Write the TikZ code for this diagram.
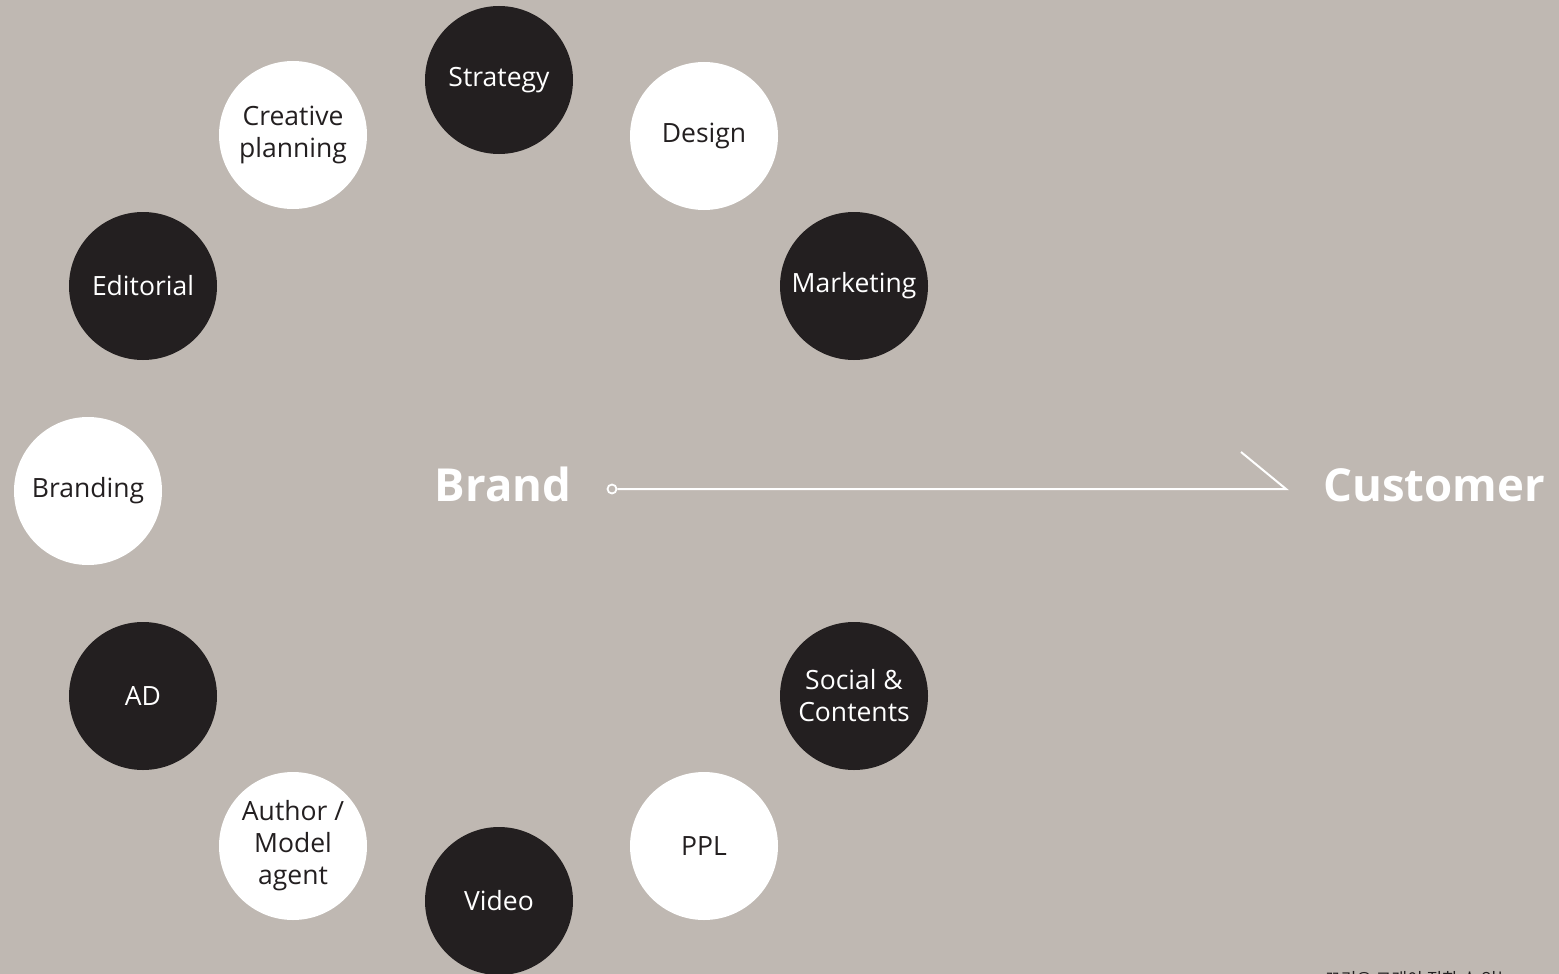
\documentclass[tikz,border=0pt]{standalone}
\usepackage{fontspec}
\setmainfont{Open Sans}
\newfontfamily\krfont{Noto Sans CJK KR}
\definecolor{bgc}{RGB}{191,184,178}
\definecolor{dark}{RGB}{35,31,32}
\begin{document}
\begin{tikzpicture}[x=1pt,y=-1pt,
  circ/.style={circle,minimum size=148pt,inner sep=0pt,align=center,font=\fontsize{26.5}{32}\selectfont},
  darkc/.style={circ,fill=dark,text=white},
  lightc/.style={circ,fill=white,text=dark},
  big/.style={font=\fontsize{45.5}{50}\selectfont\bfseries,text=white,inner sep=0pt,anchor=base}]
\fill[bgc] (0,0) rectangle (1559,974);
\useasboundingbox (0,0) rectangle (1559,974);
\node[darkc] (strategy) at (499,80) {Strategy};
\node[lightc] (design) at (704,136) {Design};
\node[darkc] (marketing) at (854,286) {Marketing};
\node[lightc] (creative) at (293,135) {Creative\\planning};
\node[darkc] (editorial) at (143,286) {Editorial};
\node[lightc] (branding) at (88,491) {Branding};
\node[darkc] (ad) at (143,696) {AD};
\node[lightc] (agent) at (293,846) {Author /\\Model\\agent};
\node[darkc] (video) at (499,901) {Video};
\node[lightc] (ppl) at (704,846) {PPL};
\node[darkc] (social) at (854,696) {Social \&\\Contents};
\node[big] (brand) at (503,501) {Brand};
\node[big,anchor=base west] (customer) at (1323,501) {Customer};
\node[circle,draw=white,line width=1.8pt,minimum size=9pt,inner sep=0pt] (dot) at (612,489) {};
\coordinate (tip) at (1286,489);
\coordinate (tick) at (1241,452);
\draw[white,line width=2pt] (dot.east) -- (tip) -- (tick);
\node[anchor=base west,text=dark,font=\krfont\fontsize{17}{20}\selectfont,inner sep=0pt] (note) at (1325,985) {끄리오 그래이 집한 수 있는};
\end{tikzpicture}
\end{document}
